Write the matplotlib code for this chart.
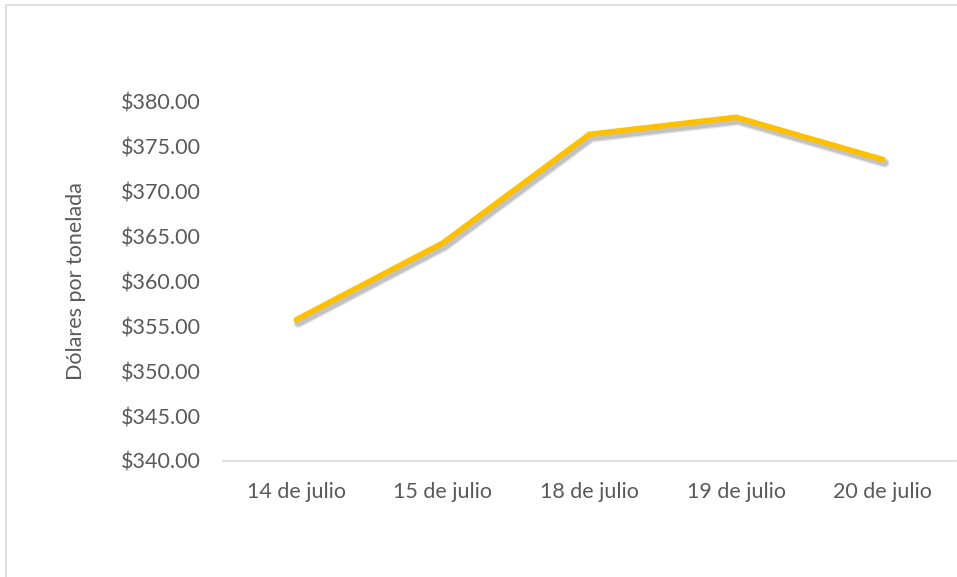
import matplotlib
matplotlib.use("Agg")
import matplotlib.pyplot as plt
import matplotlib.patheffects as pe
from matplotlib.patches import Rectangle
from matplotlib.ticker import FuncFormatter

categories = ["14 de julio", "15 de julio", "18 de julio", "19 de julio", "20 de julio"]
prices = [355.75, 364.3, 376.4, 378.3, 373.6]
y_ticks = [340, 345, 350, 355, 360, 365, 370, 375, 380]
y_label = "Dólares por tonelada"

plt.rcParams['font.family'] = ['Lato', 'DejaVu Sans']
text_color = "#595959"
fs = 15.5

W, H = 957, 577
fig = plt.figure(figsize=(W / 100, H / 100), dpi=100)
ax = fig.add_axes([223 / W, 1 - 461 / H, (956 - 223) / W, (461 - 102) / H])

x = list(range(len(categories)))
ax.plot(x, prices, color="#FFC000", linewidth=4.0, solid_capstyle="round",
        solid_joinstyle="miter",
        path_effects=[pe.SimpleLineShadow(offset=(1.5, -2.5), shadow_color="black", alpha=0.10, rho=1, linewidth=7),
                      pe.SimpleLineShadow(offset=(1.5, -2.5), shadow_color="black", alpha=0.15, rho=1, linewidth=5),
                      pe.Normal()], zorder=3)

ax.set_xlim(-0.5, len(categories) - 0.5)
ax.set_ylim(340, 380)
ax.set_yticks(y_ticks)
ax.yaxis.set_major_formatter(FuncFormatter(lambda v, p: f"${v:,.2f}"))
ax.set_xticks(x)
ax.set_xticklabels(categories)

for s in ["top", "right", "left"]:
    ax.spines[s].set_visible(False)
ax.spines["bottom"].set_color("#D9D9D9")
ax.spines["bottom"].set_linewidth(1.2)
ax.tick_params(axis="both", length=0, colors=text_color, labelsize=fs)
ax.tick_params(axis="y", pad=15.8)
ax.tick_params(axis="x", pad=15)
ax.set_ylabel(y_label, color=text_color, fontsize=fs)
ax.yaxis.label.set_va("center")
ax.yaxis.set_label_coords((76 - 223) / (956 - 223), 0.5)

fig.add_artist(Rectangle((6 / W, -0.05), 1.1, 1 - 5 / H + 0.05, transform=fig.transFigure,
                         fill=False, edgecolor="#D9D9D9", linewidth=1.2))

fig.savefig("out.png", dpi=100)
